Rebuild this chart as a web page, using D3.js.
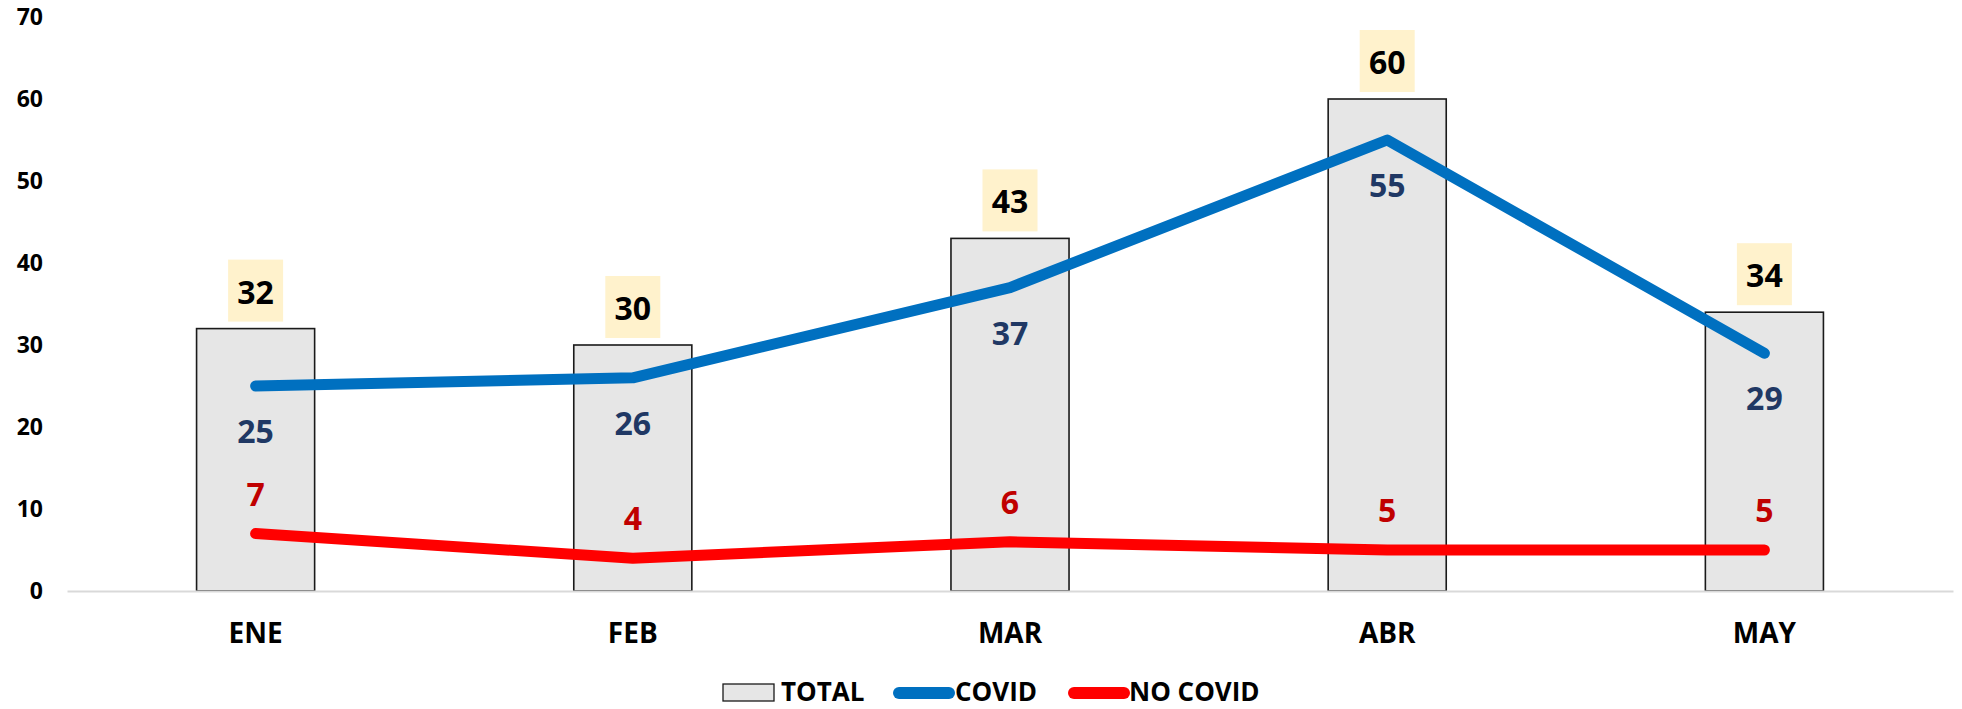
<!DOCTYPE html>
<html lang="es">
<head>
<meta charset="UTF-8">
<title>TOTAL / COVID / NO COVID</title>
<script src="https://cdn.jsdelivr.net/npm/d3@7"></script>
<style>
  body { margin: 0; background: #fff; }
  svg text { font-family: "Open Sans", sans-serif; font-weight: bold; }
</style>
</head>
<body>
<script>
// data
const months = ["ENE", "FEB", "MAR", "ABR", "MAY"];
const total = [32, 30, 43, 60, 34];
const covid = [25, 26, 37, 55, 29];
const noCovid = [7, 4, 6, 5, 5];
const yTicks = [0, 10, 20, 30, 40, 50, 60, 70];

const width = 1962;
const height = 709;

const svg = d3.select("body").append("svg")
  .attr("width", width)
  .attr("height", height);

const x = d3.scaleBand()
  .domain(months)
  .range([67, 1953])
  .paddingInner(0.687)
  .paddingOuter(0.3435);

const y = d3.scaleLinear()
  .domain([0, 70])
  .range([591, 17]);

const cx = m => x(m) + x.bandwidth() / 2;

// y axis labels
const yAxis = svg.append("g")
  .attr("transform", "translate(43,0)")
  .call(d3.axisLeft(y).tickValues(yTicks).tickSize(0).tickPadding(0));
yAxis.select(".domain").remove();
yAxis.selectAll("text")
  .attr("fill", "#000")
  .style("font-size", "23px");

// bars
svg.selectAll("rect.bar")
  .data(months)
  .join("rect")
  .attr("class", "bar")
  .attr("x", m => x(m))
  .attr("width", x.bandwidth())
  .attr("y", (m, i) => y(total[i]))
  .attr("height", (m, i) => y(0) - y(total[i]))
  .attr("fill", "#E6E6E6")
  .attr("stroke", "#1a1a1a")
  .attr("stroke-width", 1.6);

// x axis
const xAxis = svg.append("g")
  .attr("transform", `translate(0,${y(0)})`)
  .call(d3.axisBottom(x).tickSize(0).tickPadding(0));
xAxis.select(".domain")
  .attr("stroke", "#D9D9D9")
  .attr("stroke-width", 2);
xAxis.selectAll("text")
  .attr("fill", "#000")
  .attr("y", 52)
  .attr("dy", 0)
  .style("font-size", "28px");

// lines
const line = d3.line()
  .x((v, i) => cx(months[i]))
  .y(v => y(v));

svg.append("path")
  .datum(covid)
  .attr("d", line)
  .attr("fill", "none")
  .attr("stroke", "#0070C0")
  .attr("stroke-width", 11)
  .attr("stroke-linecap", "round")
  .attr("stroke-linejoin", "round");

svg.append("path")
  .datum(noCovid)
  .attr("d", line)
  .attr("fill", "none")
  .attr("stroke", "#FF0000")
  .attr("stroke-width", 11)
  .attr("stroke-linecap", "round")
  .attr("stroke-linejoin", "round");

// total labels in boxes
const totLab = svg.selectAll("g.tot")
  .data(months)
  .join("g")
  .attr("class", "tot")
  .attr("transform", (m, i) => `translate(${cx(m)},${y(total[i])})`);
totLab.append("rect")
  .attr("x", -27.5)
  .attr("y", -69)
  .attr("width", 55)
  .attr("height", 62)
  .attr("fill", "#FFF2CC");
totLab.append("text")
  .attr("text-anchor", "middle")
  .attr("y", -25)
  .attr("fill", "#000")
  .style("font-size", "32px")
  .text((m, i) => total[i]);

// covid labels
svg.selectAll("text.cov")
  .data(months)
  .join("text")
  .attr("class", "cov")
  .attr("text-anchor", "middle")
  .attr("x", m => cx(m))
  .attr("y", (m, i) => y(covid[i]) + 57)
  .attr("fill", "#203864")
  .style("font-size", "32px")
  .text((m, i) => covid[i]);

// no covid labels
svg.selectAll("text.noc")
  .data(months)
  .join("text")
  .attr("class", "noc")
  .attr("text-anchor", "middle")
  .attr("x", m => cx(m))
  .attr("y", (m, i) => y(noCovid[i]) - 28)
  .attr("fill", "#C00000")
  .style("font-size", "32px")
  .text((m, i) => noCovid[i]);

// legend
const leg = svg.append("g").style("font-size", "26px");
leg.append("rect")
  .attr("x", 723).attr("y", 684)
  .attr("width", 51).attr("height", 17)
  .attr("fill", "#E6E6E6").attr("stroke", "#1a1a1a").attr("stroke-width", 1.3);
leg.append("text").attr("x", 781).attr("y", 701).text("TOTAL");
leg.append("line")
  .attr("x1", 899).attr("x2", 949).attr("y1", 693).attr("y2", 693)
  .attr("stroke", "#0070C0").attr("stroke-width", 12).attr("stroke-linecap", "round");
leg.append("text").attr("x", 955).attr("y", 701).text("COVID");
leg.append("line")
  .attr("x1", 1074).attr("x2", 1124).attr("y1", 693).attr("y2", 693)
  .attr("stroke", "#FF0000").attr("stroke-width", 12).attr("stroke-linecap", "round");
leg.append("text").attr("x", 1129).attr("y", 701).text("NO COVID");
</script>
</body>
</html>
